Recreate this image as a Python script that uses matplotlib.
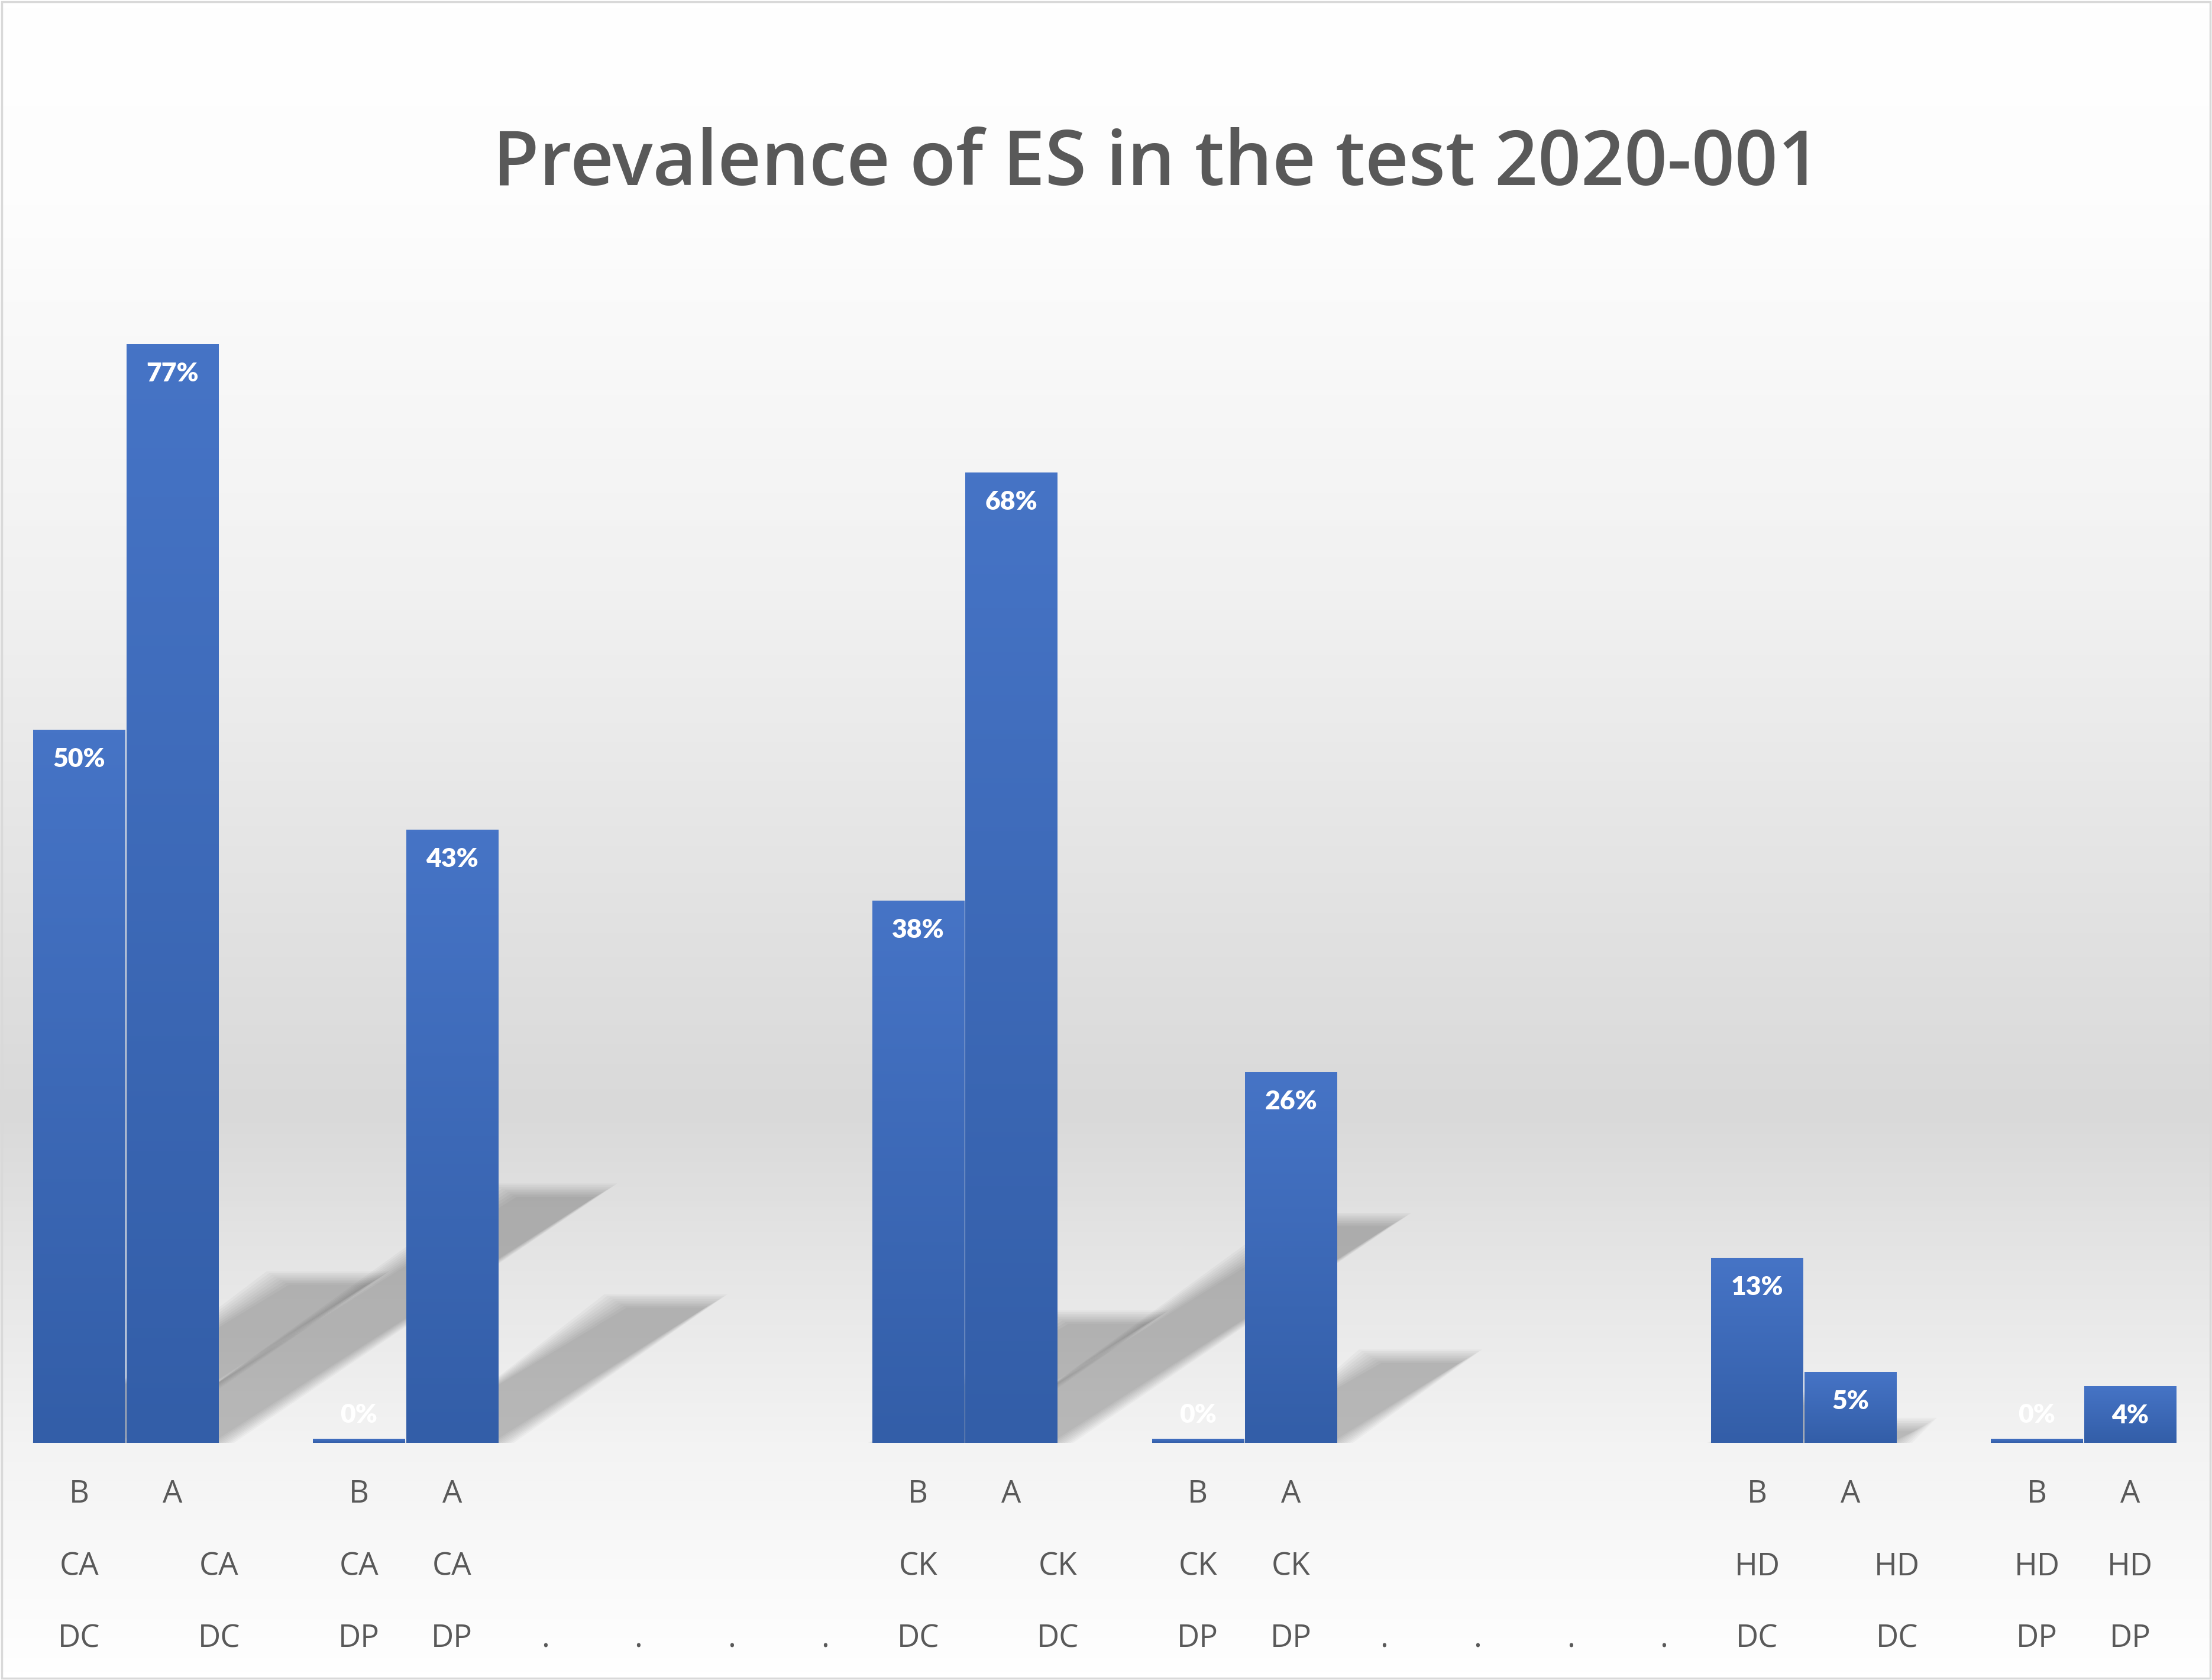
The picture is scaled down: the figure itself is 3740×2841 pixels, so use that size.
import numpy as np
import matplotlib
matplotlib.use("Agg")
import matplotlib.pyplot as plt
from matplotlib import transforms
from matplotlib.colors import LinearSegmentedColormap
from matplotlib.patches import Polygon, Rectangle

# ---- data (one slot per category position, gaps are empty slots) ----
n_slots = 23
bar_slots = [0, 1, 3, 4, 9, 10, 12, 13, 18, 19, 21, 22]
bar_values = [0.50, 0.77, 0.003, 0.43, 0.38, 0.68, 0.003, 0.26, 0.13, 0.05, 0.003, 0.04]
level1_text = ["B", "A"] * 6

level2_slots = [0, 1.5, 3, 4, 9, 10.5, 12, 13, 18, 19.5, 21, 22]
level2_text = ["CA"] * 4 + ["CK"] * 4 + ["HD"] * 4
level3_text = ["DC", "DC", "DP", "DP"] * 3
dot_slots = [5, 6, 7, 8, 14, 15, 16, 17]

title = "Prevalence of ES in the test 2020-001"

TEXT_GREY = "#595959"
BAR_TOP = "#4674C6"
BAR_BOTTOM = "#335EA8"

fig = plt.figure(figsize=(37.4, 28.41), dpi=100)

# background gradient (white -> grey -> white)
bg = fig.add_axes([0, 0, 1, 1], zorder=-10)
bg_cmap = LinearSegmentedColormap.from_list(
    "bg", [(0.0, "#ffffff"), (0.12, "#fdfdfd"), (0.35, "#f1f1f1"),
           (0.66, "#d9d9d9"), (0.86, "#f3f3f3"), (1.0, "#ffffff")])
bg.imshow(np.linspace(0, 1, 600)[:, None], aspect="auto", cmap=bg_cmap,
          extent=[0, 1, 0, 1], vmin=0, vmax=1)
bg.set_axis_off()

ax = fig.add_axes([0.01467, 0.14106, 0.96939, 0.76448], zorder=1)
ax.set_facecolor("none")
ax.set_xlim(-0.5, n_slots - 0.5)
ax.set_ylim(0, 0.9)
for s in ax.spines.values():
    s.set_visible(False)
ax.set_xticks([])
ax.set_yticks([])

# soft perspective shadows behind the bars
p0 = ax.transData.transform((0, 0))
p1 = ax.transData.transform((1, 1))
px_x, px_y = p1[0] - p0[0], p1[1] - p0[1]
k, slant = 0.228, 1.53
for s, v in zip(bar_slots, bar_values):
    if v < 0.01:
        continue
    sh = k * v
    dx = slant * sh * px_y / px_x
    x0, x1 = s - 0.5, s + 0.5
    for grow in np.linspace(0.16, -0.08, 9):
        gy = grow * px_x / px_y * 0.6
        poly = Polygon([(x0 + grow * 0.5, 0), (x1 + grow, 0),
                        (x1 + dx + grow, sh + gy),
                        (x0 + dx - grow, sh + gy)],
                       closed=True, facecolor="black", edgecolor="none",
                       alpha=0.028, zorder=1)
        ax.add_patch(poly)

# bars with vertical gradient
bars = ax.bar(bar_slots, bar_values, width=0.985, color=BAR_TOP,
              edgecolor="none", zorder=3)
bar_cmap = LinearSegmentedColormap.from_list("bar", [BAR_BOTTOM, BAR_TOP])
for b in bars:
    x0 = b.get_x()
    w = b.get_width()
    h = b.get_height()
    im = ax.imshow(np.linspace(1, 0, 200)[:, None], aspect="auto",
                   cmap=bar_cmap, vmin=0, vmax=1,
                   extent=[x0, x0 + w, 0, h], zorder=4)
    im.set_clip_path(b)
ax.set_xlim(-0.5, n_slots - 0.5)
ax.set_ylim(0, 0.9)

# data labels
for s, v in zip(bar_slots, bar_values):
    txt = f"{round(v * 100):.0f}%"
    off = 29 if v < 0.01 else -36
    ax.annotate(txt, (s, v), xytext=(0, off), textcoords="offset points",
                ha="center", va="center", color="white",
                fontsize=32, fontweight="heavy", family="Lato", zorder=5)

# multi-level category labels
tr = transforms.blended_transform_factory(ax.transData, fig.transFigure)
row_y = [0.1105, 0.0672, 0.0245]
lab = dict(transform=tr, ha="center", va="center", fontsize=38,
           color=TEXT_GREY, family="Open Sans")
for s, t in zip(bar_slots, level1_text):
    ax.text(s, row_y[0], t, **lab)
for s, t in zip(level2_slots, level2_text):
    ax.text(s, row_y[1], t, **lab)
for s, t in zip(level2_slots, level3_text):
    ax.text(s, row_y[2], t, **lab)
for s in dot_slots:
    ax.text(s, row_y[2], ".", **lab)

fig.text(0.523, 0.9015, title, ha="center", va="center", fontsize=92,
         fontweight="semibold", color=TEXT_GREY, family="Open Sans")

# outer border
fig.patches.append(Rectangle((0.0008, 0.001), 0.9984, 0.998,
                             transform=fig.transFigure, fill=False,
                             edgecolor="#d9d9d9", linewidth=2.5, zorder=20))

fig.savefig("out.png", dpi=100)
